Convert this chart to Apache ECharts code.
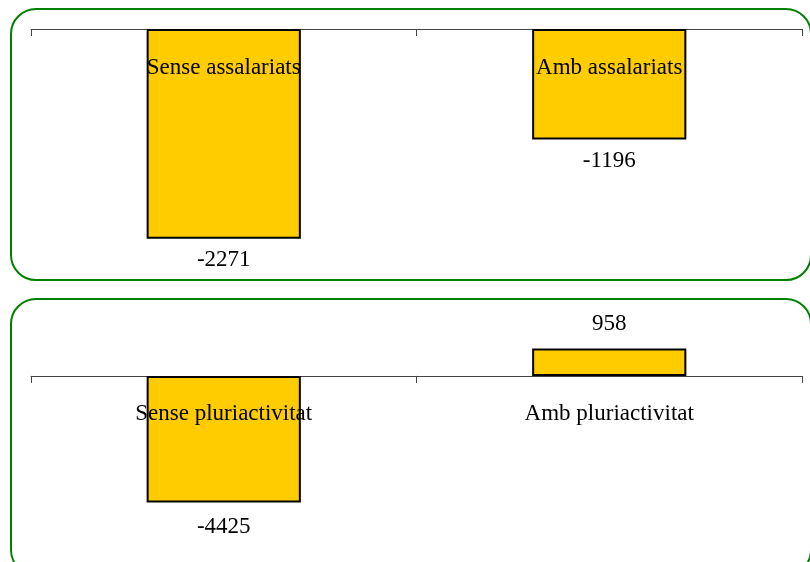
<!DOCTYPE html>
<html>
<head>
<meta charset="utf-8">
<script src="https://cdn.jsdelivr.net/npm/echarts@6/dist/echarts.min.js"></script>
<style>
  html, body { margin: 0; padding: 0; background: #fff; }
  #chart { width: 810px; height: 562px; }
</style>
</head>
<body>
<div id="chart"></div>
<script>
// dades
const catsTop = ['Sense assalariats', 'Amb assalariats'];
const valsTop = [-2271, -1196];
const catsBottom = ['Sense pluriactivitat', 'Amb pluriactivitat'];
const valsBottom = [-4425, 958];

const FONT = '"Liberation Serif", "Times New Roman", serif';
const BAR_COLOR = '#FFCC00';
const GREEN = '#008000';

function catAxis(gridIndex, data) {
  return {
    type: 'category',
    gridIndex,
    data,
    axisLine: { onZero: true, lineStyle: { color: '#444', width: 1 } },
    axisTick: { show: true, length: 7, lineStyle: { color: '#444' } },
    axisLabel: { show: false },
    splitLine: { show: false }
  };
}

function valAxis(gridIndex, min, max) {
  return {
    type: 'value',
    gridIndex,
    min,
    max,
    show: false,
    splitLine: { show: false }
  };
}

function barSeries(idx, data, dist) {
  return {
    type: 'bar',
    xAxisIndex: idx,
    yAxisIndex: idx,
    data,
    barWidth: '40%',
    itemStyle: { color: BAR_COLOR, borderColor: '#000', borderWidth: 2 },
    label: {
      show: true,
      position: 'outside',
      distance: dist,
      color: '#000',
      fontFamily: FONT,
      fontSize: 23
    }
  };
}

// etiquetes de categoria, a sota de la línia del zero
function catLabels(idx, cats) {
  return {
    type: 'scatter',
    xAxisIndex: idx,
    yAxisIndex: idx,
    data: cats.map(c => [c, 0]),
    symbolSize: 0,
    z: 10,
    silent: true,
    itemStyle: { opacity: 1 },
    label: {
      show: true,
      position: 'bottom',
      distance: 27,
      formatter: p => p.value[0],
      color: '#000',
      opacity: 1,
      fontFamily: FONT,
      fontSize: 23
    }
  };
}

const chart = echarts.init(document.getElementById('chart'), null, { renderer: 'canvas' });
chart.setOption({
  animation: false,
  backgroundColor: '#fff',
  grid: [
    { left: 31, right: 8, top: 29, bottom: 302 },
    { left: 31, right: 8, top: 333, bottom: 43 }
  ],
  xAxis: [catAxis(0, catsTop), catAxis(1, catsBottom)],
  yAxis: [valAxis(0, -2500, 0), valAxis(1, -5000, 1500)],
  series: [
    barSeries(0, valsTop, 10),
    barSeries(1, valsBottom, 13),
    catLabels(0, catsTop),
    catLabels(1, catsBottom)
  ],
  graphic: [
    {
      type: 'rect',
      shape: { x: 11, y: 9, width: 800, height: 271, r: 25 },
      style: { fill: 'none', stroke: GREEN, lineWidth: 2 }
    },
    {
      type: 'rect',
      shape: { x: 11, y: 299, width: 800, height: 276, r: 25 },
      style: { fill: 'none', stroke: GREEN, lineWidth: 2 }
    }
  ]
});
</script>
</body>
</html>
